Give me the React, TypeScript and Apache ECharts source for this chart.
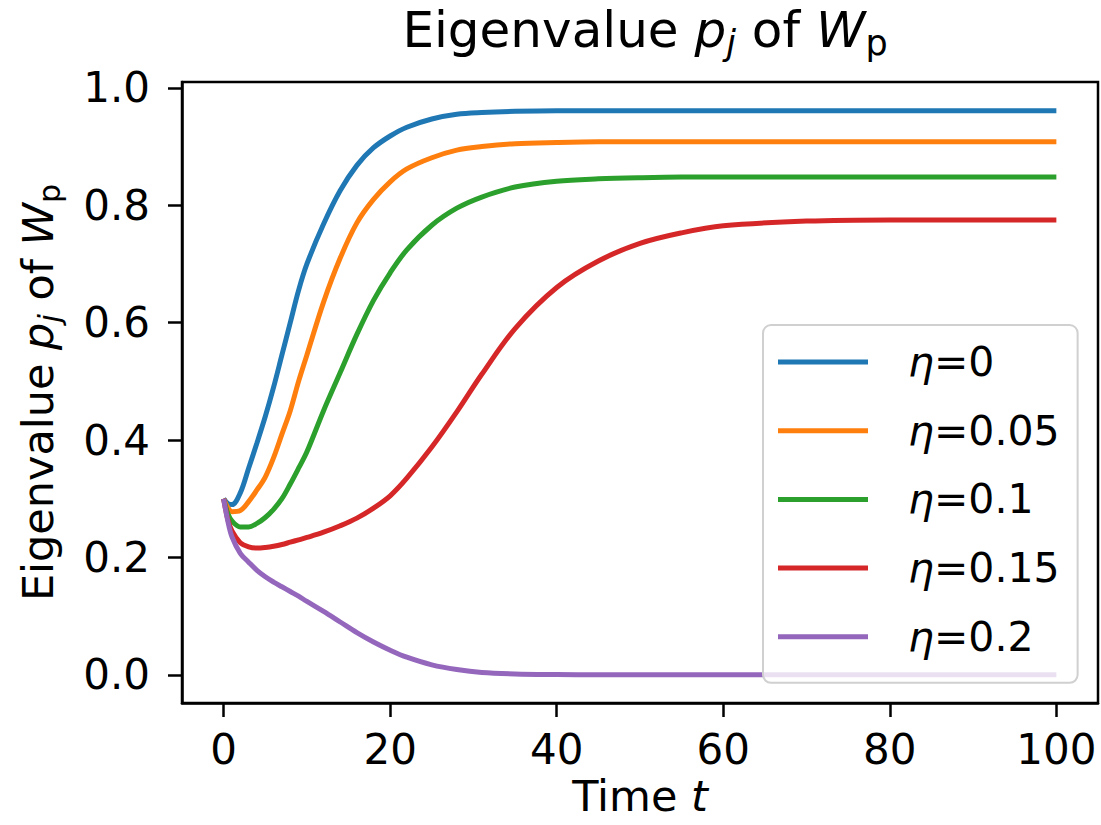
import React, { useEffect, useRef } from "react";
import * as echarts from "echarts";

const T = [0, 0.5, 1, 2, 3, 4, 5, 6, 7, 8, 9, 10, 12, 14, 16, 18, 20, 22, 25, 28, 31, 35, 40, 45, 50, 55, 60, 70, 80, 90, 100];

const ETA_0 = [0.30, 0.292, 0.29, 0.31, 0.352, 0.395, 0.44, 0.49, 0.545, 0.60, 0.655, 0.70, 0.768, 0.825, 0.868, 0.898, 0.918, 0.933, 0.947, 0.955, 0.958, 0.960, 0.961, 0.961, 0.961, 0.961, 0.961, 0.961, 0.961, 0.961, 0.961];
const ETA_005 = [0.30, 0.285, 0.278, 0.28, 0.295, 0.315, 0.337, 0.37, 0.41, 0.45, 0.50, 0.545, 0.635, 0.71, 0.77, 0.81, 0.84, 0.862, 0.881, 0.894, 0.900, 0.905, 0.907, 0.908, 0.908, 0.908, 0.908, 0.908, 0.908, 0.908, 0.908];
const ETA_01 = [0.30, 0.275, 0.262, 0.252, 0.252, 0.258, 0.268, 0.282, 0.30, 0.325, 0.352, 0.38, 0.45, 0.515, 0.58, 0.638, 0.685, 0.724, 0.766, 0.795, 0.814, 0.831, 0.841, 0.845, 0.847, 0.848, 0.848, 0.848, 0.848, 0.848, 0.848];
const ETA_015 = [0.30, 0.265, 0.245, 0.225, 0.218, 0.216, 0.217, 0.219, 0.222, 0.226, 0.23, 0.234, 0.243, 0.254, 0.267, 0.284, 0.305, 0.335, 0.388, 0.448, 0.512, 0.59, 0.66, 0.705, 0.735, 0.753, 0.765, 0.773, 0.775, 0.775, 0.775];
const ETA_02 = [0.30, 0.262, 0.235, 0.207, 0.192, 0.178, 0.167, 0.158, 0.15, 0.142, 0.134, 0.125, 0.108, 0.09, 0.072, 0.056, 0.042, 0.03, 0.017, 0.009, 0.004, 0.0015, 0.0005, 0, 0, 0, 0, 0, 0, 0, 0];

const SERIES_NAMES = ["η=0", "η=0.05", "η=0.1", "η=0.15", "η=0.2"];
const SERIES_VALUES = [ETA_0, ETA_005, ETA_01, ETA_015, ETA_02];
const COLORS = ["#1f77b4", "#ff7f0e", "#2ca02c", "#d62728", "#9467bd"];

const X_TICKS = [0, 20, 40, 60, 80, 100];
const Y_TICKS = [0, 0.2, 0.4, 0.6, 0.8, 1.0];

const FONT = "DejaVu Sans";
const FS = 42;

const makeRich = (fs: number, sub: number, lh: number, pad: number) => ({
  n: { fontFamily: FONT, fontSize: fs, fontWeight: "normal", color: "#000", lineHeight: lh },
  i: { fontFamily: FONT, fontSize: fs, fontWeight: "normal", fontStyle: "italic", color: "#000", lineHeight: lh },
  si: { fontFamily: FONT, fontSize: sub, fontWeight: "normal", fontStyle: "italic", color: "#000", lineHeight: lh, verticalAlign: "top", padding: [pad, 0, 0, 0] },
  sn: { fontFamily: FONT, fontSize: sub, fontWeight: "normal", color: "#000", lineHeight: lh, verticalAlign: "top", padding: [pad, 0, 0, 0] },
});

const rich = makeRich(43, 30, 52, 22);
const titleRich = makeRich(50, 35, 60, 25);
const xNameRich = makeRich(43, 30, 42, 18);

const LABEL_TEXT = "{n|Eigenvalue }{i|p}{si|j}{n| of }{i|W}{sn|p}";

export default function App() {
  const ref = useRef<HTMLDivElement>(null);
  useEffect(() => {
    document.body.style.margin = "0";
    const chart = echarts.init(ref.current!, undefined, { renderer: "svg" });
    const series = SERIES_NAMES.map((name, k) => ({
      name,
      type: "line",
      data: T.map((t, j) => [t, SERIES_VALUES[k][j]]),
      showSymbol: false,
      symbol: "none",
      smooth: 0.35,
      lineStyle: { color: COLORS[k], width: 5 },
      itemStyle: { color: COLORS[k] },
      z: 2,
    }));
    chart.setOption({
      animation: false,
      backgroundColor: "#fff",
      title: {
        text: LABEL_TEXT,
        left: 640,
        top: -5,
        textAlign: "center",
        textStyle: { fontWeight: "normal", rich: titleRich },
      },
      grid: {
        left: 182,
        right: 3,
        top: 82,
        bottom: 122,
        outerBoundsMode: "none",
        containLabel: false,
        show: true,
        borderColor: "#000",
        borderWidth: 2.5,
        backgroundColor: "transparent",
      },
      legend: {
        orient: "vertical",
        left: 763,
        top: 325,
        padding: [13, 18, 22, 15],
        itemWidth: 90,
        itemHeight: 5,
        itemGap: 20.7,
        icon: "rect",
        backgroundColor: "rgba(255,255,255,0.8)",
        borderColor: "#d0d0d0",
        borderWidth: 2,
        borderRadius: 8,
        data: SERIES_NAMES,
        formatter: (name: string) => `{i|η}{n|${name.slice(1)}}`,
        textStyle: {
          padding: [0, 0, 0, 35],
          lineHeight: 48,
          rich: {
            n: { fontFamily: FONT, fontSize: 41, color: "#000", lineHeight: 48 },
            i: { fontFamily: FONT, fontSize: 41, fontStyle: "italic", color: "#000", lineHeight: 48 },
          },
        },
      },
      xAxis: {
        type: "value",
        min: -5,
        max: 105,
        name: "{n|Time }{i|t}",
        nameLocation: "middle",
        nameGap: 68,
        nameTextStyle: { rich: xNameRich },
        axisLine: { show: true, onZero: false, lineStyle: { color: "#000", width: 2.5 } },
        axisTick: { show: true, customValues: X_TICKS, length: 14, lineStyle: { color: "#000", width: 2.5 } },
        axisLabel: {
          customValues: X_TICKS,
          fontFamily: FONT,
          fontSize: FS,
          color: "#000",
          margin: 25,
          formatter: (v: number) => String(v),
        },
        splitLine: { show: false },
      },
      yAxis: {
        type: "value",
        min: -0.048,
        max: 1.01,
        name: LABEL_TEXT,
        nameLocation: "middle",
        nameGap: 118,
        nameRotate: 90,
        nameTextStyle: { rich },
        axisLine: { show: true, onZero: false, lineStyle: { color: "#000", width: 2.5 } },
        axisTick: { show: true, customValues: Y_TICKS, length: 14, lineStyle: { color: "#000", width: 2.5 } },
        axisLabel: {
          customValues: Y_TICKS,
          fontFamily: FONT,
          fontSize: FS,
          color: "#000",
          margin: 32,
          formatter: (v: number) => v.toFixed(1),
        },
        splitLine: { show: false },
      },
      series,
    });
    return () => chart.dispose();
  }, []);
  return <div ref={ref} style={{ width: 1101, height: 825 }} />;
}
